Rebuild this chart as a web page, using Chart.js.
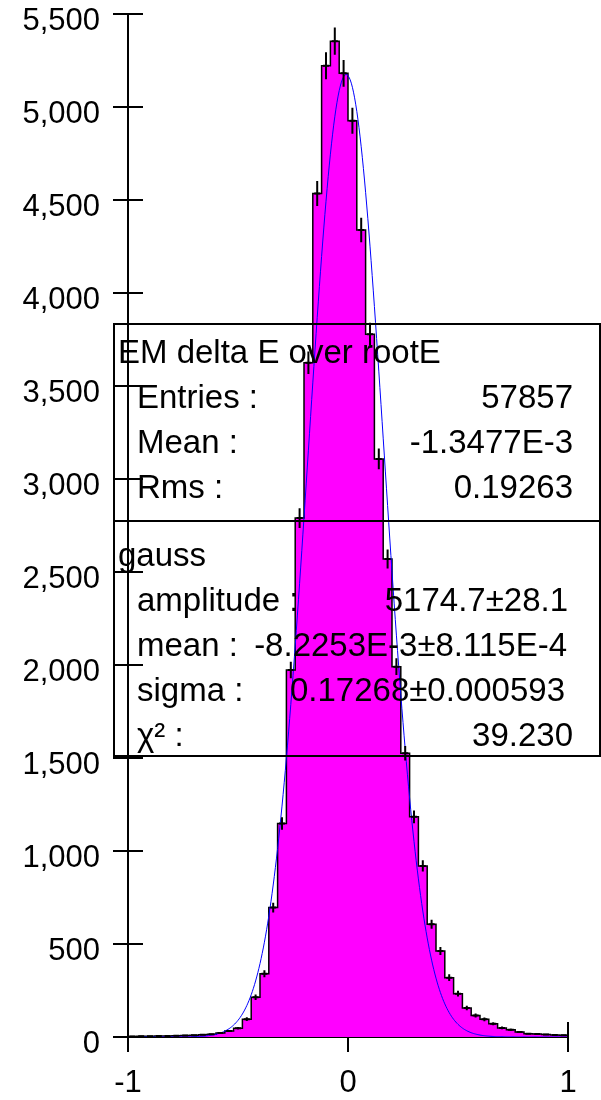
<!DOCTYPE html>
<html>
<head>
<meta charset="utf-8">
<title>EM delta E over rootE</title>
<script src="https://cdn.jsdelivr.net/npm/chart.js"></script>
<style>
html, body { margin: 0; padding: 0; background: #fff; }
canvas { display: block; }
</style>
</head>
<body>
<canvas id="myChart" width="601" height="1100"></canvas>
<script>
// 50 bins between -1 and 1
const binLow = -1;
const binHigh = 1;
const counts = [
	3, 4, 4, 5, 6, 7, 8, 10, 12, 15,
	22, 32, 47, 96, 214, 340, 696, 1148, 1973, 2790,
	3625, 4535, 5222, 5354, 5181, 4926, 4339, 3778, 3108, 2570,
	1991, 1525, 1184, 920, 606, 462, 319, 233, 156, 116,
	95, 71, 49, 39, 27, 17, 16, 13, 11, 10
];

const xTicks = [-1, 0, 1];
const yMax = 5500;
const yStep = 500;

// gaussian fit result
const fitAmplitude = 5174.7;
const fitMean = -8.2253E-3;
const fitSigma = 0.17268;

const histTitle = 'EM delta E over rootE';
const statsNames = ['Entries :', 'Mean :', 'Rms :'];
const statsValues = ['57857', '-1.3477E-3', '0.19263'];
const fitTitle = 'gauss';
const fitNames = ['amplitude :', 'mean :', 'sigma :', 'χ² :'];
const fitValues = ['5174.7±28.1', '-8.2253E-3±8.115E-4', '0.17268±0.000593', '39.230'];

const fontFamily = '"Liberation Sans", Arial, sans-serif';
const binWidth = (binHigh - binLow) / counts.length;

// outline points on the bin edges, drawn as steps
var stepPoints = counts.map((c, i) => ({ x: binLow + i * binWidth, y: c }));
stepPoints.push({ x: binHigh, y: counts[counts.length - 1] });

var fitPoints = [];
for (let i = 0; i <= 400; i++) {
	let x = binLow + i * (binHigh - binLow) / 400;
	let z = (x - fitMean) / fitSigma;
	fitPoints.push({ x: x, y: fitAmplitude * Math.exp(-0.5 * z * z) });
}

// sqrt(N) error bars at the bin centres
const errorBars = {
	id: 'errorBars',
	afterDatasetsDraw(chart) {
		const ctx = chart.ctx;
		const xs = chart.scales.x, ys = chart.scales.y;
		ctx.save();
		ctx.beginPath();
		ctx.rect(chart.chartArea.left, chart.chartArea.top, chart.chartArea.width, chart.chartArea.height + 2);
		ctx.clip();
		ctx.strokeStyle = '#000';
		ctx.lineWidth = 2;
		counts.forEach((c, i) => {
			let cx = xs.getPixelForValue(binLow + (i + 0.5) * binWidth);
			let err = Math.sqrt(c);
			ctx.beginPath();
			ctx.moveTo(cx, ys.getPixelForValue(c + err));
			ctx.lineTo(cx, ys.getPixelForValue(c - err));
			ctx.moveTo(cx - 3, ys.getPixelForValue(c));
			ctx.lineTo(cx + 3, ys.getPixelForValue(c));
			ctx.stroke();
		});
		ctx.restore();
	}
};

// tick marks crossing the axes, and the two statistics boxes
const overlay = {
	id: 'overlay',
	afterDraw(chart) {
		const ctx = chart.ctx;
		const xs = chart.scales.x, ys = chart.scales.y;
		const area = chart.chartArea;
		ctx.save();
		ctx.strokeStyle = '#000';
		ctx.lineWidth = 2;
		ys.ticks.forEach(t => {
			let py = ys.getPixelForValue(t.value);
			ctx.beginPath();
			ctx.moveTo(area.left, py);
			ctx.lineTo(area.left + 15, py);
			ctx.stroke();
		});
		let px = xs.getPixelForValue(binHigh);
		ctx.beginPath();
		ctx.moveTo(px, area.bottom);
		ctx.lineTo(px, area.bottom - 15);
		ctx.stroke();

		ctx.strokeRect(114, 324, 486, 197);
		ctx.strokeRect(114, 521, 486, 235);

		ctx.fillStyle = '#000';
		ctx.font = '33px ' + fontFamily;
		ctx.textBaseline = 'alphabetic';
		ctx.textAlign = 'left';
		ctx.fillText(histTitle, 118, 363);
		ctx.fillText(fitTitle, 118, 566);
		statsNames.forEach((n, i) => ctx.fillText(n, 137, 408 + i * 45));
		fitNames.forEach((n, i) => ctx.fillText(n, 137, 611 + i * 45));
		ctx.textAlign = 'right';
		statsValues.forEach((v, i) => ctx.fillText(v, 573, 408 + i * 45));
		const fitRight = [568, 567, 565, 573];
		fitValues.forEach((v, i) => ctx.fillText(v, fitRight[i], 611 + i * 45));
		ctx.restore();
	}
};

const ctx = document.getElementById('myChart').getContext('2d');
const myChart = new Chart(ctx, {
	type: 'line',
	data: {
		datasets: [{
			data: fitPoints,
			borderColor: '#0000ff',
			borderWidth: 1,
			pointRadius: 0,
			fill: false,
			order: 1
		}, {
			data: stepPoints,
			stepped: 'before',
			borderColor: '#000000',
			borderWidth: 1.5,
			backgroundColor: '#ff00ff',
			fill: 'origin',
			pointRadius: 0,
			order: 2
		}]
	},
	options: {
		responsive: false,
		animation: false,
		events: [],
		layout: {
			padding: { top: 14, right: 33, left: 0, bottom: 0 }
		},
		plugins: {
			legend: { display: false },
			tooltip: { enabled: false }
		},
		scales: {
			x: {
				type: 'linear',
				min: binLow,
				max: binHigh,
				afterBuildTicks: s => { s.ticks = xTicks.map(v => ({ value: v })); },
				ticks: {
					color: '#000',
					font: { family: fontFamily, size: 31 },
					padding: 13,
					maxRotation: 0
				},
				grid: { drawOnChartArea: false, tickLength: 15, color: '#000', lineWidth: 2 },
				border: { color: '#000', width: 1 },
				afterFit: s => { s.height = 63; s.paddingLeft = 0; s.paddingRight = 0; }
			},
			y: {
				min: 0,
				max: yMax,
				ticks: {
					stepSize: yStep,
					color: '#000',
					font: { family: fontFamily, size: 31 },
					padding: 13,
					labelOffset: 7
				},
				grid: { drawOnChartArea: false, tickLength: 15, color: '#000', lineWidth: 2 },
				border: { color: '#000', width: 2 },
				afterFit: s => { s.width = 128; s.paddingTop = 0; s.paddingBottom = 0; }
			}
		}
	},
	plugins: [errorBars, overlay]
});
</script>
</body>
</html>
